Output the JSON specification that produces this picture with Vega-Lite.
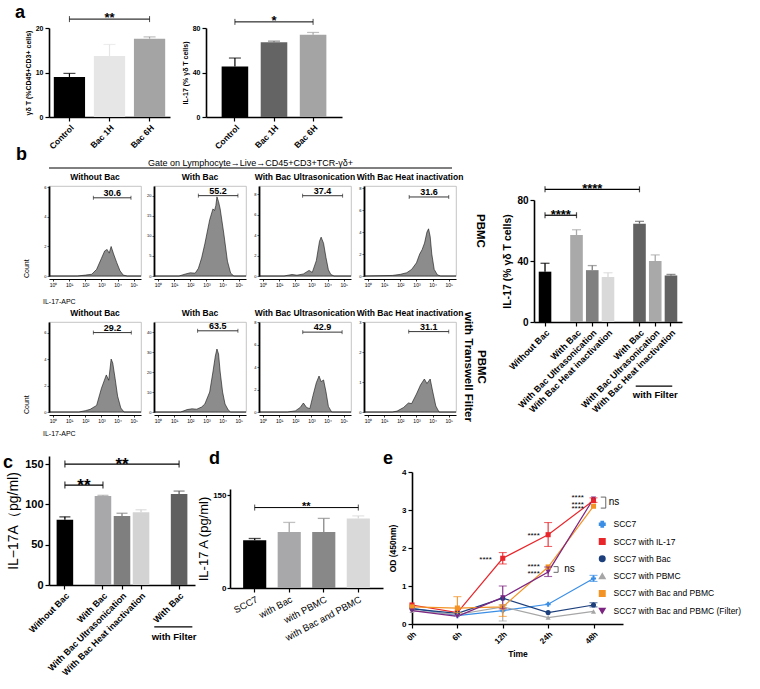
{
"$schema": "https://vega.github.io/schema/vega-lite/v6.json",
"background": "white",
"padding": {"left": 3, "top": 4, "right": 0, "bottom": 0},
"config": {
 "font": "Liberation Sans",
 "view": {"stroke": null},
 "axis": {"grid": false, "domainColor": "#000", "tickColor": "#000", "labelColor": "#000", "titleColor": "#000", "domainWidth": 1.6, "tickWidth": 1.2, "tickSize": 4, "labelFontWeight": "bold", "titleFontWeight": "bold", "labelPadding": 2, "titlePadding": 4},
 "title": {"anchor": "start", "fontSize": 18, "fontWeight": "bold", "color": "#000", "frame": "group"},
 "header": {"labelColor": "#000", "titleColor": "#000"}
},
"datasets": {
 "a1": [{"g":"Control","v":9.0,"hi":9.8},{"g":"Bac 1H","v":13.7,"hi":16.3},{"g":"Bac 6H","v":17.6,"hi":18.0}],
 "a2": [{"g":"Control","v":45.5,"hi":53},{"g":"Bac 1H","v":67.3,"hi":68.2},{"g":"Bac 6H","v":74.0,"hi":76.0}],
 "b": [{"g":"Without Bac","v":33,"hi":38.5},{"g":"With Bac","v":57,"hi":60.5},{"g":"With Bac Ultrasonication","v":34,"hi":37},{"g":"With Bac Heat inactivation","v":29.5,"hi":32.3},{"g":"With Bac ","v":64.5,"hi":66},{"g":"With Bac Ultrasonication ","v":40,"hi":44},{"g":"With Bac Heat inactivation ","v":30.5,"hi":31.2}],
 "c": [{"g":"Without Bac","v":81,"hi":84.5},{"g":"With Bac","v":110.5,"hi":111.2},{"g":"With Bac Ultrasonication","v":85.5,"hi":89},{"g":"With Bac Heat inactivation","v":90.3,"hi":93.3},{"g":"With Bac ","v":113,"hi":116.5}],
 "d": [{"g":"SCC7","v":77,"hi":80},{"g":"with Bac","v":90.5,"hi":106},{"g":"with PBMC","v":90.5,"hi":112.5},{"g":"with Bac and PBMC","v":112.5,"hi":116.5}],
 "e": [
  {"s":"SCC7","t":0,"v":0.42},{"s":"SCC7","t":1,"v":0.22},{"s":"SCC7","t":2,"v":0.35},{"s":"SCC7","t":3,"v":0.52},{"s":"SCC7","t":4,"v":1.2},
  {"s":"SCC7 with IL-17","t":0,"v":0.5},{"s":"SCC7 with IL-17","t":1,"v":0.3},{"s":"SCC7 with IL-17","t":2,"v":1.73},{"s":"SCC7 with IL-17","t":3,"v":2.35},{"s":"SCC7 with IL-17","t":4,"v":3.25},
  {"s":"SCC7 with Bac","t":0,"v":0.4},{"s":"SCC7 with Bac","t":1,"v":0.28},{"s":"SCC7 with Bac","t":2,"v":0.68},{"s":"SCC7 with Bac","t":3,"v":0.3},{"s":"SCC7 with Bac","t":4,"v":0.5},
  {"s":"SCC7 with PBMC","t":0,"v":0.35},{"s":"SCC7 with PBMC","t":1,"v":0.25},{"s":"SCC7 with PBMC","t":2,"v":0.45},{"s":"SCC7 with PBMC","t":3,"v":0.17},{"s":"SCC7 with PBMC","t":4,"v":0.33},
  {"s":"SCC7 with Bac and PBMC","t":0,"v":0.45},{"s":"SCC7 with Bac and PBMC","t":1,"v":0.42},{"s":"SCC7 with Bac and PBMC","t":2,"v":0.45},{"s":"SCC7 with Bac and PBMC","t":3,"v":1.5},{"s":"SCC7 with Bac and PBMC","t":4,"v":3.1},
  {"s":"SCC7 with Bac and PBMC (Filter)","t":0,"v":0.35},{"s":"SCC7 with Bac and PBMC (Filter)","t":1,"v":0.2},{"s":"SCC7 with Bac and PBMC (Filter)","t":2,"v":0.7},{"s":"SCC7 with Bac and PBMC (Filter)","t":3,"v":1.37},{"s":"SCC7 with Bac and PBMC (Filter)","t":4,"v":3.3}
 ],
 "eerr": [
  {"s":"SCC7","t":4,"lo":1.12,"hi":1.28},
  {"s":"SCC7 with IL-17","t":2,"lo":1.58,"hi":1.88},{"s":"SCC7 with IL-17","t":3,"lo":2.04,"hi":2.67},{"s":"SCC7 with IL-17","t":4,"lo":3.2,"hi":3.32},
  {"s":"SCC7 with Bac","t":4,"lo":0.45,"hi":0.56},
  {"s":"SCC7 with PBMC","t":2,"lo":0.08,"hi":0.5},
  {"s":"SCC7 with Bac and PBMC","t":1,"lo":0.3,"hi":0.72},{"s":"SCC7 with Bac and PBMC","t":2,"lo":0.2,"hi":0.5},
  {"s":"SCC7 with Bac and PBMC (Filter)","t":2,"lo":0.4,"hi":1.0},{"s":"SCC7 with Bac and PBMC (Filter)","t":3,"lo":1.25,"hi":1.5}
 ],
 "flow": [
  {"k":"h","c":"PBMC","p":"Without Bac","x":-0.25,"y":0},{"k":"h","c":"PBMC","p":"Without Bac","x":1.5,"y":0},{"k":"h","c":"PBMC","p":"Without Bac","x":2.0,"y":0.06},{"k":"h","c":"PBMC","p":"Without Bac","x":2.4,"y":0.12},{"k":"h","c":"PBMC","p":"Without Bac","x":2.7,"y":0.45},{"k":"h","c":"PBMC","p":"Without Bac","x":3.0,"y":1.2},{"k":"h","c":"PBMC","p":"Without Bac","x":3.2,"y":1.7},{"k":"h","c":"PBMC","p":"Without Bac","x":3.35,"y":1.8},{"k":"h","c":"PBMC","p":"Without Bac","x":3.48,"y":1.55},{"k":"h","c":"PBMC","p":"Without Bac","x":3.6,"y":2.0},{"k":"h","c":"PBMC","p":"Without Bac","x":3.75,"y":1.5},{"k":"h","c":"PBMC","p":"Without Bac","x":3.95,"y":0.9},{"k":"h","c":"PBMC","p":"Without Bac","x":4.15,"y":0.35},{"k":"h","c":"PBMC","p":"Without Bac","x":4.35,"y":0.06},{"k":"h","c":"PBMC","p":"Without Bac","x":4.6,"y":0},{"k":"h","c":"PBMC","p":"Without Bac","x":5.45,"y":0},
  {"k":"g","c":"PBMC","p":"Without Bac","x":2.5,"x2":4.83,"xm":3.67,"y":5.3,"top":6.1,"t":"30.6"},
  {"k":"h","c":"PBMC","p":"With Bac","x":-0.25,"y":0},{"k":"h","c":"PBMC","p":"With Bac","x":1.3,"y":0},{"k":"h","c":"PBMC","p":"With Bac","x":1.7,"y":0.5},{"k":"h","c":"PBMC","p":"With Bac","x":2.0,"y":0.8},{"k":"h","c":"PBMC","p":"With Bac","x":2.3,"y":0.7},{"k":"h","c":"PBMC","p":"With Bac","x":2.5,"y":1.9},{"k":"h","c":"PBMC","p":"With Bac","x":2.7,"y":4.5},{"k":"h","c":"PBMC","p":"With Bac","x":2.9,"y":8},{"k":"h","c":"PBMC","p":"With Bac","x":3.2,"y":14},{"k":"h","c":"PBMC","p":"With Bac","x":3.4,"y":16.7},{"k":"h","c":"PBMC","p":"With Bac","x":3.5,"y":16.3},{"k":"h","c":"PBMC","p":"With Bac","x":3.58,"y":17.5},{"k":"h","c":"PBMC","p":"With Bac","x":3.65,"y":19.7},{"k":"h","c":"PBMC","p":"With Bac","x":3.75,"y":18.5},{"k":"h","c":"PBMC","p":"With Bac","x":3.85,"y":16.7},{"k":"h","c":"PBMC","p":"With Bac","x":4.07,"y":10.7},{"k":"h","c":"PBMC","p":"With Bac","x":4.3,"y":3.7},{"k":"h","c":"PBMC","p":"With Bac","x":4.5,"y":0.7},{"k":"h","c":"PBMC","p":"With Bac","x":4.7,"y":0},{"k":"h","c":"PBMC","p":"With Bac","x":5.45,"y":0},
  {"k":"g","c":"PBMC","p":"With Bac","x":2.5,"x2":4.95,"xm":3.72,"y":20,"top":22.4,"t":"55.2"},
  {"k":"h","c":"PBMC","p":"With Bac Ultrasonication","x":-0.25,"y":0},{"k":"h","c":"PBMC","p":"With Bac Ultrasonication","x":1.3,"y":0},{"k":"h","c":"PBMC","p":"With Bac Ultrasonication","x":1.8,"y":0.15},{"k":"h","c":"PBMC","p":"With Bac Ultrasonication","x":2.1,"y":0.08},{"k":"h","c":"PBMC","p":"With Bac Ultrasonication","x":2.5,"y":0.2},{"k":"h","c":"PBMC","p":"With Bac Ultrasonication","x":2.85,"y":0.55},{"k":"h","c":"PBMC","p":"With Bac Ultrasonication","x":3.05,"y":0.35},{"k":"h","c":"PBMC","p":"With Bac Ultrasonication","x":3.3,"y":1.5},{"k":"h","c":"PBMC","p":"With Bac Ultrasonication","x":3.5,"y":3.4},{"k":"h","c":"PBMC","p":"With Bac Ultrasonication","x":3.6,"y":3.8},{"k":"h","c":"PBMC","p":"With Bac Ultrasonication","x":3.75,"y":3.2},{"k":"h","c":"PBMC","p":"With Bac Ultrasonication","x":3.9,"y":1.8},{"k":"h","c":"PBMC","p":"With Bac Ultrasonication","x":4.05,"y":0.6},{"k":"h","c":"PBMC","p":"With Bac Ultrasonication","x":4.2,"y":0.15},{"k":"h","c":"PBMC","p":"With Bac Ultrasonication","x":4.4,"y":0},{"k":"h","c":"PBMC","p":"With Bac Ultrasonication","x":5.45,"y":0},
  {"k":"g","c":"PBMC","p":"With Bac Ultrasonication","x":2.45,"x2":4.93,"xm":3.69,"y":7.85,"top":8.8,"t":"37.4"},
  {"k":"h","c":"PBMC","p":"With Bac Heat inactivation","x":-0.25,"y":0},{"k":"h","c":"PBMC","p":"With Bac Heat inactivation","x":1.5,"y":0.05},{"k":"h","c":"PBMC","p":"With Bac Heat inactivation","x":2.0,"y":0.15},{"k":"h","c":"PBMC","p":"With Bac Heat inactivation","x":2.4,"y":0.3},{"k":"h","c":"PBMC","p":"With Bac Heat inactivation","x":2.7,"y":0.6},{"k":"h","c":"PBMC","p":"With Bac Heat inactivation","x":3.0,"y":1.2},{"k":"h","c":"PBMC","p":"With Bac Heat inactivation","x":3.2,"y":2.0},{"k":"h","c":"PBMC","p":"With Bac Heat inactivation","x":3.35,"y":2.4},{"k":"h","c":"PBMC","p":"With Bac Heat inactivation","x":3.5,"y":3.0},{"k":"h","c":"PBMC","p":"With Bac Heat inactivation","x":3.65,"y":4.0},{"k":"h","c":"PBMC","p":"With Bac Heat inactivation","x":3.75,"y":4.3},{"k":"h","c":"PBMC","p":"With Bac Heat inactivation","x":3.85,"y":3.6},{"k":"h","c":"PBMC","p":"With Bac Heat inactivation","x":3.95,"y":2.0},{"k":"h","c":"PBMC","p":"With Bac Heat inactivation","x":4.1,"y":0.6},{"k":"h","c":"PBMC","p":"With Bac Heat inactivation","x":4.3,"y":0.1},{"k":"h","c":"PBMC","p":"With Bac Heat inactivation","x":4.5,"y":0},{"k":"h","c":"PBMC","p":"With Bac Heat inactivation","x":5.45,"y":0},
  {"k":"g","c":"PBMC","p":"With Bac Heat inactivation","x":2.55,"x2":5.0,"xm":3.78,"y":7.2,"top":8.2,"t":"31.6"},
  {"k":"h","c":"Transwell","p":"Without Bac","x":-0.25,"y":0},{"k":"h","c":"Transwell","p":"Without Bac","x":1.6,"y":0},{"k":"h","c":"Transwell","p":"Without Bac","x":2.0,"y":0.1},{"k":"h","c":"Transwell","p":"Without Bac","x":2.3,"y":0.2},{"k":"h","c":"Transwell","p":"Without Bac","x":2.7,"y":0.5},{"k":"h","c":"Transwell","p":"Without Bac","x":3.0,"y":1.8},{"k":"h","c":"Transwell","p":"Without Bac","x":3.3,"y":2.8},{"k":"h","c":"Transwell","p":"Without Bac","x":3.45,"y":2.4},{"k":"h","c":"Transwell","p":"Without Bac","x":3.6,"y":4.0},{"k":"h","c":"Transwell","p":"Without Bac","x":3.7,"y":3.7},{"k":"h","c":"Transwell","p":"Without Bac","x":3.85,"y":2.5},{"k":"h","c":"Transwell","p":"Without Bac","x":4.0,"y":1.2},{"k":"h","c":"Transwell","p":"Without Bac","x":4.2,"y":0.3},{"k":"h","c":"Transwell","p":"Without Bac","x":4.4,"y":0},{"k":"h","c":"Transwell","p":"Without Bac","x":5.45,"y":0},
  {"k":"g","c":"Transwell","p":"Without Bac","x":2.5,"x2":4.85,"xm":3.68,"y":6.0,"top":6.8,"t":"29.2"},
  {"k":"h","c":"Transwell","p":"With Bac","x":-0.25,"y":0},{"k":"h","c":"Transwell","p":"With Bac","x":1.4,"y":0},{"k":"h","c":"Transwell","p":"With Bac","x":1.8,"y":1.2},{"k":"h","c":"Transwell","p":"With Bac","x":2.1,"y":1.6},{"k":"h","c":"Transwell","p":"With Bac","x":2.4,"y":1.4},{"k":"h","c":"Transwell","p":"With Bac","x":2.7,"y":2.5},{"k":"h","c":"Transwell","p":"With Bac","x":2.9,"y":4},{"k":"h","c":"Transwell","p":"With Bac","x":3.2,"y":10},{"k":"h","c":"Transwell","p":"With Bac","x":3.4,"y":20},{"k":"h","c":"Transwell","p":"With Bac","x":3.55,"y":28},{"k":"h","c":"Transwell","p":"With Bac","x":3.65,"y":31.5},{"k":"h","c":"Transwell","p":"With Bac","x":3.75,"y":29},{"k":"h","c":"Transwell","p":"With Bac","x":3.85,"y":20},{"k":"h","c":"Transwell","p":"With Bac","x":4.0,"y":10},{"k":"h","c":"Transwell","p":"With Bac","x":4.15,"y":4},{"k":"h","c":"Transwell","p":"With Bac","x":4.35,"y":1},{"k":"h","c":"Transwell","p":"With Bac","x":4.5,"y":0},{"k":"h","c":"Transwell","p":"With Bac","x":5.45,"y":0},
  {"k":"g","c":"Transwell","p":"With Bac","x":2.45,"x2":4.95,"xm":3.7,"y":40.6,"top":45,"t":"63.5"},
  {"k":"h","c":"Transwell","p":"With Bac Ultrasonication","x":-0.25,"y":0},{"k":"h","c":"Transwell","p":"With Bac Ultrasonication","x":1.5,"y":0},{"k":"h","c":"Transwell","p":"With Bac Ultrasonication","x":2.0,"y":0.1},{"k":"h","c":"Transwell","p":"With Bac Ultrasonication","x":2.3,"y":0.4},{"k":"h","c":"Transwell","p":"With Bac Ultrasonication","x":2.5,"y":0.8},{"k":"h","c":"Transwell","p":"With Bac Ultrasonication","x":2.7,"y":0.4},{"k":"h","c":"Transwell","p":"With Bac Ultrasonication","x":2.9,"y":0.3},{"k":"h","c":"Transwell","p":"With Bac Ultrasonication","x":3.1,"y":1.5},{"k":"h","c":"Transwell","p":"With Bac Ultrasonication","x":3.3,"y":2.6},{"k":"h","c":"Transwell","p":"With Bac Ultrasonication","x":3.47,"y":3.2},{"k":"h","c":"Transwell","p":"With Bac Ultrasonication","x":3.6,"y":2.7},{"k":"h","c":"Transwell","p":"With Bac Ultrasonication","x":3.75,"y":2.85},{"k":"h","c":"Transwell","p":"With Bac Ultrasonication","x":3.9,"y":1.8},{"k":"h","c":"Transwell","p":"With Bac Ultrasonication","x":4.05,"y":0.5},{"k":"h","c":"Transwell","p":"With Bac Ultrasonication","x":4.25,"y":0},{"k":"h","c":"Transwell","p":"With Bac Ultrasonication","x":5.45,"y":0},
  {"k":"g","c":"Transwell","p":"With Bac Ultrasonication","x":2.46,"x2":4.9,"xm":3.68,"y":7.1,"top":8.0,"t":"42.9"},
  {"k":"h","c":"Transwell","p":"With Bac Heat inactivation","x":-0.25,"y":0},{"k":"h","c":"Transwell","p":"With Bac Heat inactivation","x":1.5,"y":0},{"k":"h","c":"Transwell","p":"With Bac Heat inactivation","x":1.8,"y":0.03},{"k":"h","c":"Transwell","p":"With Bac Heat inactivation","x":2.2,"y":0.15},{"k":"h","c":"Transwell","p":"With Bac Heat inactivation","x":2.5,"y":0.3},{"k":"h","c":"Transwell","p":"With Bac Heat inactivation","x":2.7,"y":0.28},{"k":"h","c":"Transwell","p":"With Bac Heat inactivation","x":3.0,"y":0.6},{"k":"h","c":"Transwell","p":"With Bac Heat inactivation","x":3.25,"y":0.9},{"k":"h","c":"Transwell","p":"With Bac Heat inactivation","x":3.49,"y":1.1},{"k":"h","c":"Transwell","p":"With Bac Heat inactivation","x":3.65,"y":0.95},{"k":"h","c":"Transwell","p":"With Bac Heat inactivation","x":3.85,"y":1.1},{"k":"h","c":"Transwell","p":"With Bac Heat inactivation","x":4.0,"y":0.7},{"k":"h","c":"Transwell","p":"With Bac Heat inactivation","x":4.2,"y":0.2},{"k":"h","c":"Transwell","p":"With Bac Heat inactivation","x":4.4,"y":0},{"k":"h","c":"Transwell","p":"With Bac Heat inactivation","x":5.45,"y":0},
  {"k":"g","c":"Transwell","p":"With Bac Heat inactivation","x":2.52,"x2":5.0,"xm":3.76,"y":2.68,"top":3.0,"t":"31.1"}
 ]
},
"spacing": -6,
"align": "none",
"resolve": {"scale": {"color": "independent", "shape": "independent"}, "legend": {"color": "independent", "shape": "independent"}},
"vconcat": [
 {"resolve": {"scale": {"color": "independent"}, "legend": {"color": "independent"}},
  "hconcat": [
  {"width": 121, "height": 89,
   "title": {"text": "a", "dx": -34, "offset": -10},
   "encoding": {"x": {"field": "g", "type": "nominal", "scale": {"domain": ["Control","Bac 1H","Bac 6H"], "paddingInner": 0.22, "paddingOuter": 0.12}, "axis": {"title": null, "labelAngle": -45, "labelFontSize": 8.5}}},
   "layer": [
    {"data": {"name": "a1"}, "mark": {"type": "bar"}, "encoding": {"y": {"field": "v", "type": "quantitative", "scale": {"domain": [0, 20]}, "axis": {"title": "γδ T (%CD45+CD3+ cells)", "values": [0,5,10,15,20], "labelFontSize": 7, "titleFontSize": 7}}, "color": {"field": "g", "type": "nominal", "scale": {"domain": ["Control","Bac 1H","Bac 6H"], "range": ["#000000","#e6e6e6","#a4a4a4"]}, "legend": null}}},
    {"data": {"name": "a1"}, "mark": {"type": "rule", "strokeWidth": 1.2}, "encoding": {"y": {"field": "v", "type": "quantitative"}, "y2": {"field": "hi"}, "color": {"field": "g", "type": "nominal", "legend": null}}},
    {"data": {"name": "a1"}, "mark": {"type": "tick", "thickness": 1.2, "size": 12}, "encoding": {"y": {"field": "hi", "type": "quantitative"}, "color": {"field": "g", "type": "nominal", "legend": null}}},
    {"data": {"values": [{"x1": "Control", "x2": "Bac 6H", "m": "Bac 1H", "y": 22, "t": "**"}]}, "layer": [
     {"mark": {"type": "rule", "color": "#000", "strokeWidth": 1}, "encoding": {"x": {"field": "x1", "type": "nominal"}, "x2": {"field": "x2"}, "y": {"field": "y", "type": "quantitative"}}},
     {"mark": {"type": "point", "shape": "M0,-1L0,1", "size": 36, "color": "#000", "strokeWidth": 1}, "encoding": {"x": {"field": "x1", "type": "nominal"}, "y": {"field": "y", "type": "quantitative"}}},
     {"mark": {"type": "point", "shape": "M0,-1L0,1", "size": 36, "color": "#000", "strokeWidth": 1}, "encoding": {"x": {"field": "x2", "type": "nominal"}, "y": {"field": "y", "type": "quantitative"}}},
     {"mark": {"type": "text", "fontSize": 13, "fontWeight": "bold", "baseline": "alphabetic", "dy": 3}, "encoding": {"x": {"field": "m", "type": "nominal"}, "y": {"field": "y", "type": "quantitative"}, "text": {"field": "t"}}}
    ]}
   ]},
  {"width": 136, "height": 89,
   "encoding": {"x": {"field": "g", "type": "nominal", "scale": {"domain": ["Control","Bac 1H","Bac 6H"], "paddingInner": 0.32, "paddingOuter": 0.4}, "axis": {"title": null, "labelAngle": -45, "labelFontSize": 8.5}}},
   "layer": [
    {"data": {"name": "a2"}, "mark": {"type": "bar"}, "encoding": {"y": {"field": "v", "type": "quantitative", "scale": {"domain": [0, 80]}, "axis": {"title": "IL-17 (% γδ T cells)", "values": [0,20,40,60,80], "labelFontSize": 7, "titleFontSize": 7}}, "color": {"field": "g", "type": "nominal", "scale": {"domain": ["Control","Bac 1H","Bac 6H"], "range": ["#000000","#646464","#a4a4a4"]}, "legend": null}}},
    {"data": {"name": "a2"}, "mark": {"type": "rule", "strokeWidth": 1.2}, "encoding": {"y": {"field": "v", "type": "quantitative"}, "y2": {"field": "hi"}, "color": {"field": "g", "type": "nominal", "legend": null}}},
    {"data": {"name": "a2"}, "mark": {"type": "tick", "thickness": 1.2, "size": 12}, "encoding": {"y": {"field": "hi", "type": "quantitative"}, "color": {"field": "g", "type": "nominal", "legend": null}}},
    {"data": {"values": [{"x1": "Control", "x2": "Bac 6H", "m": "Bac 1H", "y": 85.5, "t": "*"}]}, "layer": [
     {"mark": {"type": "rule", "color": "#000", "strokeWidth": 1}, "encoding": {"x": {"field": "x1", "type": "nominal"}, "x2": {"field": "x2"}, "y": {"field": "y", "type": "quantitative"}}},
     {"mark": {"type": "point", "shape": "M0,-1L0,1", "size": 36, "color": "#000", "strokeWidth": 1}, "encoding": {"x": {"field": "x1", "type": "nominal"}, "y": {"field": "y", "type": "quantitative"}}},
     {"mark": {"type": "point", "shape": "M0,-1L0,1", "size": 36, "color": "#000", "strokeWidth": 1}, "encoding": {"x": {"field": "x2", "type": "nominal"}, "y": {"field": "y", "type": "quantitative"}}},
     {"mark": {"type": "text", "fontSize": 13, "fontWeight": "bold", "baseline": "alphabetic", "dy": 3}, "encoding": {"x": {"field": "m", "type": "nominal"}, "y": {"field": "y", "type": "quantitative"}, "text": {"field": "t"}}}
    ]}
   ]}
 ], "spacing": 11},
 {"spacing": 13,
  "align": "none",
  "resolve": {"scale": {"color": "independent", "shape": "independent"}, "legend": {"color": "independent", "shape": "independent"}},
  "vconcat": [
  {"resolve": {"scale": {"color": "independent"}, "legend": {"color": "independent"}},
   "hconcat": [
   {"title": {"text": "b", "dx": -33, "offset": -5},
    "spacing": 3,
    "vconcat": [
     {"data": {"values": [{}]}, "width": 403, "height": 1,
      "title": {"text": "Gate on Lymphocyte→Live→CD45+CD3+TCR-γδ+", "fontSize": 9, "fontWeight": "normal", "anchor": "middle", "offset": 0},
      "mark": {"type": "rule", "color": "#000", "strokeWidth": 1},
      "encoding": {"y": {"datum": 0, "type": "quantitative", "axis": null}}},
     {"data": {"name": "flow"}, "transform": [{"filter": "datum.c=='PBMC'"}],
      "facet": {
       "column": {"field": "p", "type": "nominal", "title": "IL-17-APC", "sort": ["Without Bac","With Bac","With Bac Ultrasonication","With Bac Heat inactivation"], "header": {"labelOrient": "top", "titleOrient": "bottom", "titleAnchor": "start", "titleFontSize": 7, "titleFontWeight": "normal", "titlePadding": 1, "labelFontSize": 8.5, "labelFontWeight": "bold", "labelPadding": 1}},
       "row": {"field": "c", "type": "nominal", "title": "Count", "header": {"titleOrient": "left", "titleAnchor": "start", "titleFontSize": 7, "titleFontWeight": "normal", "titlePadding": 3, "labelOrient": "right", "labelAngle": 90, "labelFontSize": 11.5, "labelFontWeight": "bold", "labelPadding": 16, "labelExpr": "datum.value=='PBMC' ? 'PBMC' : ['PBMC','with Transwell Filter']"}}
      },
      "spacing": {"column": 3, "row": 0},
      "resolve": {"scale": {"y": "independent"}},
      "spec": {
       "width": 92, "height": 90,
       "view": {"stroke": "#b5b5b5", "strokeWidth": 0.8},
       "encoding": {"x": {"field": "x", "type": "quantitative", "scale": {"domain": [-0.25, 5.45], "nice": false}, "axis": {"title": null, "values": [0,1,2,3,4,5], "labelExpr": "'10' + ['⁰','¹','²','³','⁴','⁵'][datum.value]", "labelFontSize": 5, "labelFontWeight": "normal", "tickSize": 2, "labelPadding": 1, "domainWidth": 1, "tickWidth": 0.8}}},
       "layer": [
        {"transform": [{"filter": "datum.k=='h'"}], "mark": {"type": "area", "color": "#8c8c8c", "stroke": "#111", "strokeWidth": 0.6}, "encoding": {"y": {"field": "y", "type": "quantitative", "scale": {"nice": false, "zero": true}, "axis": {"title": null, "tickCount": 4, "labelFontSize": 4, "labelFontWeight": "normal", "tickSize": 2, "labelPadding": 1, "domainWidth": 1.8, "tickWidth": 0.6}}}},
        {"transform": [{"filter": "datum.k=='g'"}], "mark": {"type": "point", "opacity": 0}, "encoding": {"y": {"field": "top", "type": "quantitative"}}},
        {"transform": [{"filter": "datum.k=='g'"}], "mark": {"type": "rule", "color": "#000", "strokeWidth": 0.8}, "encoding": {"x2": {"field": "x2"}, "y": {"field": "y", "type": "quantitative"}}},
        {"transform": [{"filter": "datum.k=='g'"}], "mark": {"type": "point", "shape": "M0,-1L0,1", "size": 16, "color": "#000", "strokeWidth": 0.8}, "encoding": {"y": {"field": "y", "type": "quantitative"}}},
        {"transform": [{"filter": "datum.k=='g'"}], "mark": {"type": "point", "shape": "M0,-1L0,1", "size": 16, "color": "#000", "strokeWidth": 0.8}, "encoding": {"x": {"field": "x2", "type": "quantitative"}, "y": {"field": "y", "type": "quantitative"}}},
        {"transform": [{"filter": "datum.k=='g'"}], "mark": {"type": "text", "fontSize": 9, "fontWeight": "bold", "baseline": "alphabetic", "dy": -2}, "encoding": {"x": {"field": "xm", "type": "quantitative"}, "y": {"field": "y", "type": "quantitative"}, "text": {"field": "t"}}}
       ]
      }},
     {"data": {"name": "flow"}, "transform": [{"filter": "datum.c=='Transwell'"}],
      "facet": {
       "column": {"field": "p", "type": "nominal", "title": "IL-17-APC", "sort": ["Without Bac","With Bac","With Bac Ultrasonication","With Bac Heat inactivation"], "header": {"labelOrient": "top", "titleOrient": "bottom", "titleAnchor": "start", "titleFontSize": 7, "titleFontWeight": "normal", "titlePadding": -3, "labelFontSize": 8.5, "labelFontWeight": "bold", "labelPadding": 1}},
       "row": {"field": "c", "type": "nominal", "title": "Count", "header": {"titleOrient": "left", "titleAnchor": "start", "titleFontSize": 7, "titleFontWeight": "normal", "titlePadding": 3, "labelOrient": "right", "labelAngle": 90, "labelFontSize": 11.5, "labelFontWeight": "bold", "labelPadding": 4, "labelExpr": "datum.value=='PBMC' ? 'PBMC' : ['PBMC','with Transwell Filter']"}}
      },
      "spacing": {"column": 3, "row": 0},
      "resolve": {"scale": {"y": "independent"}},
      "spec": {
       "width": 92, "height": 90,
       "view": {"stroke": "#b5b5b5", "strokeWidth": 0.8},
       "encoding": {"x": {"field": "x", "type": "quantitative", "scale": {"domain": [-0.25, 5.45], "nice": false}, "axis": {"title": null, "values": [0,1,2,3,4,5], "labelExpr": "'10' + ['⁰','¹','²','³','⁴','⁵'][datum.value]", "labelFontSize": 5, "labelFontWeight": "normal", "tickSize": 2, "labelPadding": 1, "domainWidth": 1, "tickWidth": 0.8}}},
       "layer": [
        {"transform": [{"filter": "datum.k=='h'"}], "mark": {"type": "area", "color": "#8c8c8c", "stroke": "#111", "strokeWidth": 0.6}, "encoding": {"y": {"field": "y", "type": "quantitative", "scale": {"nice": false, "zero": true}, "axis": {"title": null, "tickCount": 4, "labelFontSize": 4, "labelFontWeight": "normal", "tickSize": 2, "labelPadding": 1, "domainWidth": 1.8, "tickWidth": 0.6}}}},
        {"transform": [{"filter": "datum.k=='g'"}], "mark": {"type": "point", "opacity": 0}, "encoding": {"y": {"field": "top", "type": "quantitative"}}},
        {"transform": [{"filter": "datum.k=='g'"}], "mark": {"type": "rule", "color": "#000", "strokeWidth": 0.8}, "encoding": {"x2": {"field": "x2"}, "y": {"field": "y", "type": "quantitative"}}},
        {"transform": [{"filter": "datum.k=='g'"}], "mark": {"type": "point", "shape": "M0,-1L0,1", "size": 16, "color": "#000", "strokeWidth": 0.8}, "encoding": {"y": {"field": "y", "type": "quantitative"}}},
        {"transform": [{"filter": "datum.k=='g'"}], "mark": {"type": "point", "shape": "M0,-1L0,1", "size": 16, "color": "#000", "strokeWidth": 0.8}, "encoding": {"x": {"field": "x2", "type": "quantitative"}, "y": {"field": "y", "type": "quantitative"}}},
        {"transform": [{"filter": "datum.k=='g'"}], "mark": {"type": "text", "fontSize": 9, "fontWeight": "bold", "baseline": "alphabetic", "dy": -2}, "encoding": {"x": {"field": "xm", "type": "quantitative"}, "y": {"field": "y", "type": "quantitative"}, "text": {"field": "t"}}}
       ]
      }}
    ]},
   {"spacing": 0, "vconcat": [
    {"data": {"values": []}, "mark": "point", "width": 10, "height": 15},
    {"width": 148, "height": 122,
    "encoding": {"x": {"field": "g", "type": "nominal", "scale": {"domain": ["Without Bac","_a","With Bac","With Bac Ultrasonication","With Bac Heat inactivation","_b","With Bac ","With Bac Ultrasonication ","With Bac Heat inactivation "], "paddingInner": 0.2, "paddingOuter": 0.3}, "axis": {"title": null, "labelAngle": -45, "labelFontSize": 9, "labelExpr": "indexof(datum.value,'_')==0 ? '' : trim(datum.value)", "tickOpacity": {"condition": {"test": "indexof(datum.value,'_')==0", "value": 0}, "value": 1}}}},
    "layer": [
     {"data": {"name": "b"}, "mark": {"type": "bar"}, "encoding": {"y": {"field": "v", "type": "quantitative", "scale": {"domain": [0, 80]}, "axis": {"title": "IL-17 (% γδ T cells)", "values": [0,20,40,60,80], "labelFontSize": 10, "titleFontSize": 10.5}}, "color": {"field": "g", "type": "nominal", "scale": {"domain": ["Without Bac","With Bac","With Bac Ultrasonication","With Bac Heat inactivation","With Bac ","With Bac Ultrasonication ","With Bac Heat inactivation "], "range": ["#000000","#a9a9a9","#808080","#d9d9d9","#626262","#a9a9a9","#626262"]}, "legend": null}}},
     {"data": {"name": "b"}, "mark": {"type": "rule", "strokeWidth": 1.3}, "encoding": {"y": {"field": "v", "type": "quantitative"}, "y2": {"field": "hi"}, "color": {"field": "g", "type": "nominal", "legend": null}}},
     {"data": {"name": "b"}, "mark": {"type": "tick", "thickness": 1.3, "size": 9}, "encoding": {"y": {"field": "hi", "type": "quantitative"}, "color": {"field": "g", "type": "nominal", "legend": null}}},
     {"data": {"values": [{"x1": "Without Bac", "x2": "With Bac ", "m": "With Bac Ultrasonication", "y": 87, "t": "****"}, {"x1": "Without Bac", "x2": "With Bac", "m": "_a", "y": 70, "t": "****"}]}, "layer": [
      {"mark": {"type": "rule", "color": "#000", "strokeWidth": 1.2}, "encoding": {"x": {"field": "x1", "type": "nominal"}, "x2": {"field": "x2"}, "y": {"field": "y", "type": "quantitative"}}},
      {"mark": {"type": "point", "shape": "M0,-1L0,1", "size": 36, "color": "#000", "strokeWidth": 1.2}, "encoding": {"x": {"field": "x1", "type": "nominal"}, "y": {"field": "y", "type": "quantitative"}}},
      {"mark": {"type": "point", "shape": "M0,-1L0,1", "size": 36, "color": "#000", "strokeWidth": 1.2}, "encoding": {"x": {"field": "x2", "type": "nominal"}, "y": {"field": "y", "type": "quantitative"}}},
      {"mark": {"type": "text", "fontSize": 13, "fontWeight": "bold", "baseline": "alphabetic", "dy": 4}, "encoding": {"x": {"field": "m", "type": "nominal"}, "y": {"field": "y", "type": "quantitative"}, "text": {"field": "t"}}}
     ]},
     {"data": {"values": [{"x1": "With Bac ", "x2": "With Bac Heat inactivation ", "y": -42}]}, "mark": {"type": "rule", "color": "#000", "strokeWidth": 1.2}, "encoding": {"x": {"field": "x1", "type": "nominal", "bandPosition": 0.2}, "x2": {"field": "x2", "bandPosition": 0.6}, "y": {"field": "y", "type": "quantitative"}}},
     {"data": {"values": [{"x": "With Bac Ultrasonication ", "y": -50, "t": "with Filter"}]}, "mark": {"type": "text", "fontSize": 9.5, "fontWeight": "bold", "baseline": "alphabetic"}, "encoding": {"x": {"field": "x", "type": "nominal"}, "y": {"field": "y", "type": "quantitative"}, "text": {"field": "t"}}}
    ]}
   ]}
  ], "spacing": 15},
  {"resolve": {"scale": {"color": "independent", "shape": "independent"}, "legend": {"color": "independent", "shape": "independent"}},
   "hconcat": [
   {"width": 146, "height": 129,
    "title": {"text": "c", "dx": -46, "offset": -16},
    "encoding": {"x": {"field": "g", "type": "nominal", "scale": {"domain": ["Without Bac","_a","With Bac","With Bac Ultrasonication","With Bac Heat inactivation","_b","With Bac "], "paddingInner": 0.13, "paddingOuter": 0.4}, "axis": {"title": null, "labelAngle": -45, "labelFontSize": 9, "labelExpr": "indexof(datum.value,'_')==0 ? '' : trim(datum.value)", "tickOpacity": {"condition": {"test": "indexof(datum.value,'_')==0", "value": 0}, "value": 1}}}},
    "layer": [
     {"data": {"name": "c"}, "mark": {"type": "bar"}, "encoding": {"y": {"field": "v", "type": "quantitative", "scale": {"domain": [0, 150]}, "axis": {"title": "IL−17A（pg/ml)", "values": [0,50,100,150], "labelFontSize": 11, "titleFontSize": 14, "titleFontWeight": "normal"}}, "color": {"field": "g", "type": "nominal", "scale": {"domain": ["Without Bac","With Bac","With Bac Ultrasonication","With Bac Heat inactivation","With Bac "], "range": ["#000000","#a8a8aa","#7f7f7f","#d3d3d3","#606060"]}, "legend": null}}},
     {"data": {"name": "c"}, "mark": {"type": "rule", "strokeWidth": 1.3}, "encoding": {"y": {"field": "v", "type": "quantitative"}, "y2": {"field": "hi"}, "color": {"field": "g", "type": "nominal", "legend": null}}},
     {"data": {"name": "c"}, "mark": {"type": "tick", "thickness": 1.3, "size": 11}, "encoding": {"y": {"field": "hi", "type": "quantitative"}, "color": {"field": "g", "type": "nominal", "legend": null}}},
     {"data": {"values": [{"x1": "Without Bac", "x2": "With Bac ", "m": "With Bac Ultrasonication", "y": 150, "t": "**"}, {"x1": "Without Bac", "x2": "With Bac", "m": "_a", "y": 124, "t": "**"}]}, "layer": [
      {"mark": {"type": "rule", "color": "#000", "strokeWidth": 1.3}, "encoding": {"x": {"field": "x1", "type": "nominal"}, "x2": {"field": "x2"}, "y": {"field": "y", "type": "quantitative"}}},
      {"mark": {"type": "point", "shape": "M0,-1L0,1", "size": 49, "color": "#000", "strokeWidth": 1.3}, "encoding": {"x": {"field": "x1", "type": "nominal"}, "y": {"field": "y", "type": "quantitative"}}},
      {"mark": {"type": "point", "shape": "M0,-1L0,1", "size": 49, "color": "#000", "strokeWidth": 1.3}, "encoding": {"x": {"field": "x2", "type": "nominal"}, "y": {"field": "y", "type": "quantitative"}}},
      {"mark": {"type": "text", "fontSize": 17, "fontWeight": "bold", "baseline": "alphabetic", "dy": 6}, "encoding": {"x": {"field": "m", "type": "nominal"}, "y": {"field": "y", "type": "quantitative"}, "text": {"field": "t"}}}
     ]},
     {"data": {"values": [{"x1": "_b", "x2": "With Bac ", "y": -52}]}, "mark": {"type": "rule", "color": "#000", "strokeWidth": 1.2}, "encoding": {"x": {"field": "x1", "type": "nominal", "bandPosition": 0.15}, "x2": {"field": "x2", "bandPosition": 1.3}, "y": {"field": "y", "type": "quantitative"}}},
     {"data": {"values": [{"x": "With Bac ", "y": -68, "t": "with Filter"}]}, "mark": {"type": "text", "fontSize": 9.5, "fontWeight": "bold", "baseline": "alphabetic", "dx": -5}, "encoding": {"x": {"field": "x", "type": "nominal"}, "y": {"field": "y", "type": "quantitative"}, "text": {"field": "t"}}}
    ]},
   {"spacing": 0, "vconcat": [
    {"data": {"values": []}, "mark": "point", "width": 10, "height": 33, "title": {"text": "d", "dx": -21, "offset": -12}},
    {"width": 153, "height": 99,
    "encoding": {"x": {"field": "g", "type": "nominal", "scale": {"domain": ["SCC7","with Bac","with PBMC","with Bac and PBMC"], "paddingInner": 0.33, "paddingOuter": 0.38}, "axis": {"title": null, "labelAngle": -28, "labelFontSize": 9.5, "labelFontWeight": "normal"}}},
    "layer": [
     {"data": {"name": "d"}, "mark": {"type": "bar"}, "encoding": {"y": {"field": "v", "type": "quantitative", "scale": {"domain": [0, 150]}, "axis": {"title": "IL-17 A (pg/ml)", "values": [0,50,100,150], "labelFontSize": 8, "titleFontSize": 13, "titleFontWeight": "normal", "tickSize": 3, "labelPadding": 1, "titlePadding": 2}}, "color": {"field": "g", "type": "nominal", "scale": {"domain": ["SCC7","with Bac","with PBMC","with Bac and PBMC"], "range": ["#000000","#a8a8aa","#888888","#d9d9d9"]}, "legend": null}}},
     {"data": {"name": "d"}, "mark": {"type": "rule", "strokeWidth": 1.3}, "encoding": {"y": {"field": "v", "type": "quantitative"}, "y2": {"field": "hi"}, "color": {"field": "g", "type": "nominal", "legend": null}}},
     {"data": {"name": "d"}, "mark": {"type": "tick", "thickness": 1.3, "size": 12}, "encoding": {"y": {"field": "hi", "type": "quantitative"}, "color": {"field": "g", "type": "nominal", "legend": null}}},
     {"data": {"values": [{"x1": "SCC7", "x2": "with Bac and PBMC", "m": "with Bac", "y": 130, "t": "**"}]}, "layer": [
      {"mark": {"type": "rule", "color": "#000", "strokeWidth": 1}, "encoding": {"x": {"field": "x1", "type": "nominal"}, "x2": {"field": "x2"}, "y": {"field": "y", "type": "quantitative"}}},
      {"mark": {"type": "point", "shape": "M0,-1L0,1", "size": 36, "color": "#000", "strokeWidth": 1}, "encoding": {"x": {"field": "x1", "type": "nominal"}, "y": {"field": "y", "type": "quantitative"}}},
      {"mark": {"type": "point", "shape": "M0,-1L0,1", "size": 36, "color": "#000", "strokeWidth": 1}, "encoding": {"x": {"field": "x2", "type": "nominal"}, "y": {"field": "y", "type": "quantitative"}}},
      {"mark": {"type": "text", "fontSize": 11, "fontWeight": "bold", "baseline": "alphabetic", "dy": 2, "dx": 17}, "encoding": {"x": {"field": "m", "type": "nominal"}, "y": {"field": "y", "type": "quantitative"}, "text": {"field": "t"}}}
     ]}
    ]}
   ]},
   {"spacing": 0, "vconcat": [
    {"data": {"values": []}, "mark": "point", "width": 10, "height": 1, "title": {"text": "e", "dx": -29, "offset": -12}},
    {"width": 211, "height": 152,
    "encoding": {
     "x": {"field": "t", "type": "quantitative", "scale": {"domain": [0, 4.65], "nice": false}, "axis": {"values": [0,1,2,3,4], "labelExpr": "['0h','6h','12h','24h','48h'][datum.value]", "labelAngle": -45, "labelFontSize": 8, "title": "Time", "titleFontSize": 8.5}},
     "y": {"field": "v", "type": "quantitative", "scale": {"domain": [0, 4]}, "axis": {"values": [0,1,2,3,4], "labelFontSize": 8, "title": "OD (450nm)", "titleFontSize": 8.5}},
     "color": {"field": "s", "type": "nominal", "scale": {"domain": ["SCC7","SCC7 with IL-17","SCC7 with Bac","SCC7 with PBMC","SCC7 with Bac and PBMC","SCC7 with Bac and PBMC (Filter)"], "range": ["#3a8ee6","#e8262b","#1d3f7c","#a6a6a6","#f39325","#7d2582"]}, "legend": {"orient": "none", "legendX": 186, "legendY": 64, "title": null, "labelFontSize": 8.5, "symbolSize": 30, "rowPadding": 5.3, "labelOffset": 7, "labelColor": "#000"}}
    },
    "layer": [
     {"data": {"name": "e"}, "mark": {"type": "line", "strokeWidth": 1.2}},
     {"data": {"name": "e"}, "mark": {"type": "point", "filled": true, "size": 26, "opacity": 1}, "encoding": {"shape": {"field": "s", "type": "nominal", "scale": {"domain": ["SCC7","SCC7 with IL-17","SCC7 with Bac","SCC7 with PBMC","SCC7 with Bac and PBMC","SCC7 with Bac and PBMC (Filter)"], "range": ["cross","square","circle","triangle-up","square","triangle-down"]}, "legend": {"orient": "none", "legendX": 186, "legendY": 64, "title": null, "labelFontSize": 8.5, "symbolSize": 30, "rowPadding": 5.3, "labelOffset": 7, "labelColor": "#000"}}}},
     {"data": {"name": "eerr"}, "mark": {"type": "rule", "strokeWidth": 1.1}, "encoding": {"y": {"field": "lo", "type": "quantitative"}, "y2": {"field": "hi"}}},
     {"data": {"name": "eerr"}, "mark": {"type": "tick", "orient": "horizontal", "size": 8, "thickness": 1.1}, "encoding": {"y": {"field": "lo", "type": "quantitative"}}},
     {"data": {"name": "eerr"}, "mark": {"type": "tick", "orient": "horizontal", "size": 8, "thickness": 1.1}, "encoding": {"y": {"field": "hi", "type": "quantitative"}}},
     {"data": {"values": [{"t":1.62,"y":1.73,"l":"****"},{"t":2.68,"y":2.37,"l":"****"},{"t":2.68,"y":1.55,"l":"****"},{"t":2.68,"y":1.38,"l":"****"},{"t":3.65,"y":3.36,"l":"****"},{"t":3.65,"y":3.18,"l":"****"},{"t":3.65,"y":3.07,"l":"****"}]}, "mark": {"type": "text", "fontSize": 8, "baseline": "middle", "dy": 2}, "encoding": {"x": {"field": "t", "type": "quantitative"}, "y": {"field": "y", "type": "quantitative"}, "text": {"field": "l"}, "color": {"value": "#000"}}},
     {"data": {"values": [{"t":3.47,"y":1.44,"l":"ns"},{"t":4.45,"y":3.2,"l":"ns"}]}, "mark": {"type": "text", "fontSize": 10, "baseline": "middle"}, "encoding": {"x": {"field": "t", "type": "quantitative"}, "y": {"field": "y", "type": "quantitative"}, "text": {"field": "l"}, "color": {"value": "#000"}}},
     {"data": {"values": [{"x":3.22,"x2":3.22,"y":1.36,"y2":1.51},{"x":3.12,"x2":3.22,"y":1.51,"y2":1.51},{"x":3.12,"x2":3.22,"y":1.36,"y2":1.36},{"x":4.27,"x2":4.27,"y":3.05,"y2":3.34},{"x":4.16,"x2":4.27,"y":3.34,"y2":3.34},{"x":4.16,"x2":4.27,"y":3.05,"y2":3.05}]}, "mark": {"type": "rule", "strokeWidth": 0.9}, "encoding": {"x": {"field": "x", "type": "quantitative"}, "x2": {"field": "x2"}, "y": {"field": "y", "type": "quantitative"}, "y2": {"field": "y2"}, "color": {"value": "#555"}}}
    ]}
   ]}
  ], "spacing": 0}
 ]}
]
}
